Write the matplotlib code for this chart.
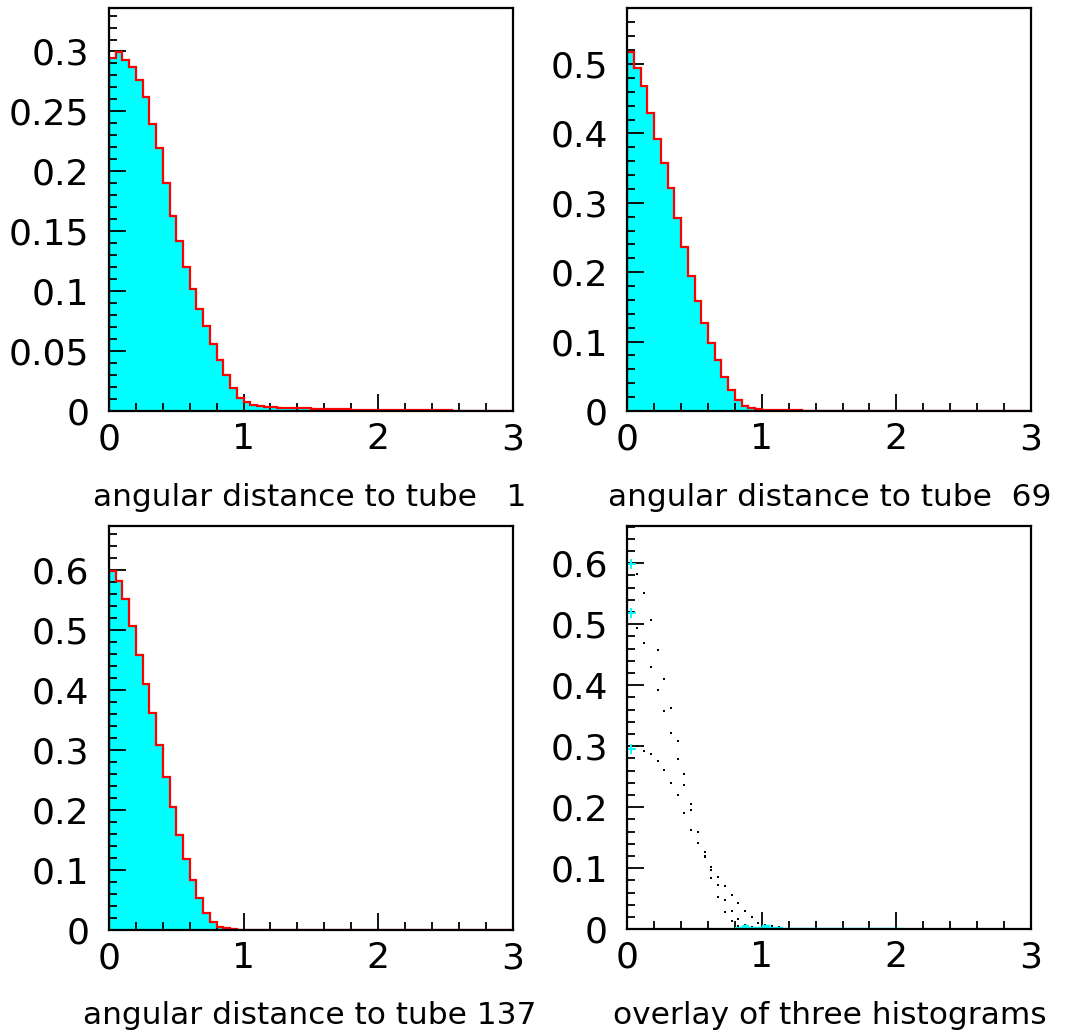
import numpy as np
import matplotlib
matplotlib.use("Agg")
import matplotlib.pyplot as plt
from matplotlib.ticker import MultipleLocator, FuncFormatter

# ---------------- data (bin width 0.05, range 0..3) ----------------
bin_edges = np.linspace(0.0, 3.0, 61)

tube1 = [0.2949, 0.2999, 0.2930, 0.2871, 0.2765, 0.2619, 0.2396, 0.2193,
         0.1903, 0.1630, 0.1419, 0.1205, 0.1021, 0.0851, 0.0708, 0.0557,
         0.0426, 0.0303, 0.0195, 0.0111, 0.0072, 0.0052, 0.0042, 0.0036,
         0.0031, 0.0029, 0.0027, 0.0025, 0.0023, 0.0021, 0.0020, 0.0018,
         0.0016, 0.0015, 0.0014, 0.0013, 0.0012, 0.0011, 0.0010,
         0.0009, 0.0009, 0.0008, 0.0008, 0.0008, 0.0007, 0.0007, 0.0007,
         0.0006, 0.0006, 0.0006, 0.0005,
         0, 0, 0, 0, 0, 0, 0, 0, 0]

tube69 = [0.518, 0.4937, 0.469, 0.430, 0.392, 0.358, 0.322, 0.2785,
          0.2357, 0.195, 0.159, 0.127, 0.098, 0.0729, 0.0484, 0.0297,
          0.0163, 0.0076, 0.0043, 0.0029, 0.0017, 0.0015, 0.0013, 0.0010,
          0.0009, 0.0008, 0.0007] + [0] * 33

tube137 = [0.599, 0.582, 0.552, 0.507, 0.458, 0.4105, 0.362, 0.308,
           0.2545, 0.205, 0.159, 0.119, 0.0833, 0.0533, 0.029, 0.0139,
           0.0055, 0.0025, 0.001] + [0] * 41

# faint cyan tail visible in the overlay panel, from bin 16 onward
overlay_tail_start_bin = 16
overlay_tail = [0.0043, 0.0070, 0.0043, 0.0043, 0.0070, 0.0043, 0.0030] + \
               [0.0020] * 8 + [0.0015] * 10 + [0.0010] * 19

titles = ["angular distance to tube   1",
          "angular distance to tube  69",
          "angular distance to tube 137",
          "overlay of three histograms"]
x_ticks = [0, 1, 2, 3]

# ---------------- figure ----------------
W, H = 1068, 1034
fig = plt.figure(figsize=(W / 100, H / 100), dpi=100)

def rect(l, r, t, b):
    return [l / W, 1 - b / H, (r - l) / W, (b - t) / H]

CYAN = "#00ffff"
RED = "#ff0000"

def style_axes(ax, ymax, ymajor, yminor):
    ax.set_xlim(0, 3)
    ax.set_ylim(0, ymax)
    ax.xaxis.set_major_locator(MultipleLocator(1))
    ax.xaxis.set_minor_locator(MultipleLocator(0.2))
    ax.yaxis.set_major_locator(MultipleLocator(ymajor))
    ax.yaxis.set_minor_locator(MultipleLocator(yminor))
    ax.yaxis.set_major_formatter(FuncFormatter(lambda v, p: "%g" % round(v, 4)))
    ax.xaxis.set_major_formatter(FuncFormatter(lambda v, p: "%g" % round(v, 4)))
    ax.tick_params(which="both", direction="in", top=False, right=False,
                   color="black", width=1.3)
    ax.tick_params(which="major", length=12.5, labelsize=26)
    ax.tick_params(which="minor", length=6)
    ax.tick_params(axis="y", which="major", pad=14)
    ax.tick_params(axis="x", which="major", pad=8)
    for s in ax.spines.values():
        s.set_linewidth(1.6)
        s.set_color("black")
        s.set_zorder(5)

def draw_hist(ax, vals):
    v = np.asarray(vals, dtype=float)
    ax.stairs(v, bin_edges, fill=True, color=CYAN, linewidth=0, zorder=1)
    ax.stairs(v, bin_edges, color=RED, linewidth=1.6, zorder=2)

axes_rects = [rect(109, 512.5, 8, 411),
              rect(627.3, 1030.8, 8, 411),
              rect(109, 512.5, 526, 930),
              rect(627.3, 1030.8, 526, 929.3)]

ax1 = fig.add_axes(axes_rects[0])
draw_hist(ax1, tube1)
style_axes(ax1, 0.3363, 0.05, 0.01)

ax2 = fig.add_axes(axes_rects[1])
draw_hist(ax2, tube69)
style_axes(ax2, 0.5807, 0.1, 0.02)

ax3 = fig.add_axes(axes_rects[2])
draw_hist(ax3, tube137)
style_axes(ax3, 0.6733, 0.1, 0.02)

ax4 = fig.add_axes(axes_rects[3])
centers = 0.5 * (bin_edges[:-1] + bin_edges[1:])
tail = np.asarray(overlay_tail, dtype=float)
ax4.stairs(tail, bin_edges[overlay_tail_start_bin:], fill=True, color=CYAN,
           linewidth=1.0, edgecolor=CYAN, zorder=4)
visible_min = 0.004  # points this close to zero merge with the axis line
for series in (tube1, tube69, tube137):
    s = np.asarray(series, dtype=float)
    c, v = centers[1:], s[1:]
    keep = v > visible_min
    ax4.plot(c[keep], v[keep], linestyle="none", marker="s", ms=1.7,
             mew=0, color="black", zorder=3)
    ax4.plot(centers[:1], s[:1], linestyle="none", marker="+", ms=7,
             mew=1.4, color=CYAN, zorder=4)
style_axes(ax4, 0.661, 0.1, 0.02)

for ax in (ax1, ax2, ax3, ax4):
    ax.set_xticks(x_ticks)

title_pos = [(310, 506), (830, 506), (310, 1024), (830, 1024)]
for (tx, ty), t in zip(title_pos, titles):
    fig.text(tx / W, 1 - ty / H, t, ha="center", va="baseline", fontsize=22.5)

fig.savefig("out.png", dpi=100, facecolor="white")
